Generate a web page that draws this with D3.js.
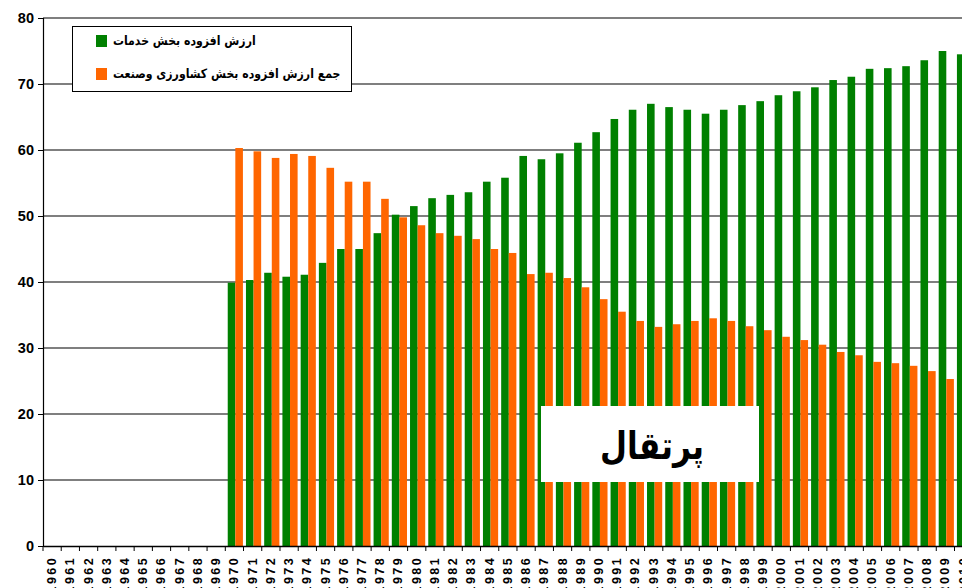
<!DOCTYPE html>
<html>
<head>
<meta charset="utf-8">
<script src="https://cdn.jsdelivr.net/npm/d3@7"></script>
<style>
  body { margin: 0; background: #fff; overflow: hidden; }
  svg { display: block; }
  .num { font-family: "Liberation Sans", Arial, sans-serif; font-weight: bold; }
  .fa { font-family: "DejaVu Sans", sans-serif; font-weight: bold; }
</style>
</head>
<body>
<script>
/* global d3 */

const years = d3.range(1960, 2011).map(String)

// services value added share (1970 - 2010)
const services = [39.9, 40.3, 41.4, 40.8, 41.1, 42.9, 45.0, 45.0, 47.4, 50.2,
  51.5, 52.7, 53.2, 53.6, 55.2, 55.8, 59.1, 58.6, 59.5, 61.1,
  62.7, 64.7, 66.1, 67.0, 66.5, 66.1, 65.5, 66.1, 66.8, 67.4,
  68.3, 68.9, 69.5, 70.6, 71.1, 72.3, 72.4, 72.7, 73.6, 75.0,
  74.5]

// agriculture + industry value added share (1970 - 2010)
const agriInd = [60.3, 59.8, 58.8, 59.4, 59.1, 57.3, 55.2, 55.2, 52.6, 49.8,
  48.6, 47.4, 47.0, 46.5, 45.0, 44.4, 41.2, 41.4, 40.6, 39.2,
  37.4, 35.5, 34.1, 33.2, 33.6, 34.1, 34.5, 34.1, 33.3, 32.7,
  31.7, 31.2, 30.5, 29.4, 28.9, 27.9, 27.7, 27.3, 26.5, 25.3,
  25.5]

const yTicks = [0, 10, 20, 30, 40, 50, 60, 70, 80]
const seriesNames = ['ارزش افزوده بخش خدمات', 'جمع ارزش افزوده بخش کشاورزی وصنعت']
const seriesColors = ['#008000', '#ff6600']
const stamp = 'پرتقال'

const w = 962, h = 588

const svg = d3.select('body').append('svg')
  .attr('width', w)
  .attr('height', h)

const x = d3.scaleBand().domain(years).range([43, 43 + 51 * 18.23])
const inner = d3.scaleBand().domain([0, 1]).range([0, x.bandwidth()])
  .paddingOuter(0.2).align(0.8)
const y = d3.scaleLinear().domain([0, 80]).range([546, 18])

// grid
svg.append('g')
  .selectAll('line')
  .data(yTicks.filter(d => d > 0))
  .join('line')
    .attr('x1', 43).attr('x2', w)
    .attr('y1', d => y(d)).attr('y2', d => y(d))
    .attr('stroke', '#555')
    .attr('stroke-width', 1.5)

// bars
const rows = years.map((yr, i) => {
  const k = i - 10
  return {year: yr, vals: k >= 0 ? [services[k], agriInd[k]] : []}
})

const group = svg.append('g')
  .selectAll('g')
  .data(rows)
  .join('g')
    .attr('transform', d => `translate(${x(d.year)},0)`)

group.selectAll('rect')
  .data(d => d.vals)
  .join('rect')
    .attr('x', (d, i) => inner(i))
    .attr('width', inner.bandwidth())
    .attr('y', d => y(d))
    .attr('height', d => y(0) - y(d))
    .attr('fill', (d, i) => seriesColors[i])

// y axis
const yAxis = svg.append('g')
  .attr('transform', 'translate(43,0)')
  .call(d3.axisLeft(y).tickValues(yTicks).tickSize(5).tickPadding(4))

yAxis.select('.domain').attr('stroke', '#000').attr('stroke-width', 1.2)
yAxis.selectAll('.tick line').attr('stroke', '#000')
yAxis.selectAll('text')
  .attr('class', 'num')
  .attr('font-size', 14.5)
  .attr('fill', '#000')

// x axis
const xAxis = svg.append('g')
  .attr('transform', 'translate(0,546)')
  .call(d3.axisBottom(x).tickSize(0).tickSizeOuter(0))

xAxis.select('.domain').attr('stroke', '#000').attr('stroke-width', 1.5)

xAxis.selectAll('.tick text')
  .attr('class', 'num')
  .attr('font-size', 12.5)
  .attr('letter-spacing', '2.4px')
  .attr('fill', '#000')
  .attr('text-anchor', 'end')
  .attr('dominant-baseline', 'central')
  .attr('transform', 'translate(0,10) rotate(-90)')
  .attr('x', 0).attr('y', 0).attr('dy', null)

svg.append('g')
  .selectAll('line')
  .data(years)
  .join('line')
    .attr('x1', d => x(d)).attr('x2', d => x(d))
    .attr('y1', 546).attr('y2', 551)
    .attr('stroke', '#000')

// legend
const legend = svg.append('g')

legend.append('rect')
  .attr('x', 72.5).attr('y', 26.5)
  .attr('width', 279).attr('height', 65)
  .attr('fill', '#fff')
  .attr('stroke', '#000')

const item = legend.selectAll('g')
  .data(seriesNames)
  .join('g')
    .attr('transform', (d, i) => `translate(96,${41 + i * 33})`)

item.append('rect')
  .attr('y', -6)
  .attr('width', 11).attr('height', 12)
  .attr('fill', (d, i) => seriesColors[i])

item.append('text')
  .attr('class', 'fa')
  .attr('transform', 'translate(17,0) scale(0.84,1)')
  .attr('font-size', 13)
  .attr('dominant-baseline', 'central')
  .text(d => d)

// stamp
svg.append('rect')
  .attr('x', 541).attr('y', 406)
  .attr('width', 218).attr('height', 76)
  .attr('fill', '#fff')

svg.append('text')
  .attr('class', 'fa')
  .attr('transform', 'translate(652,446) scale(0.82,1)')
  .attr('text-anchor', 'middle')
  .attr('dominant-baseline', 'central')
  .attr('font-size', 38)
  .text(stamp)
</script>
</body>
</html>
